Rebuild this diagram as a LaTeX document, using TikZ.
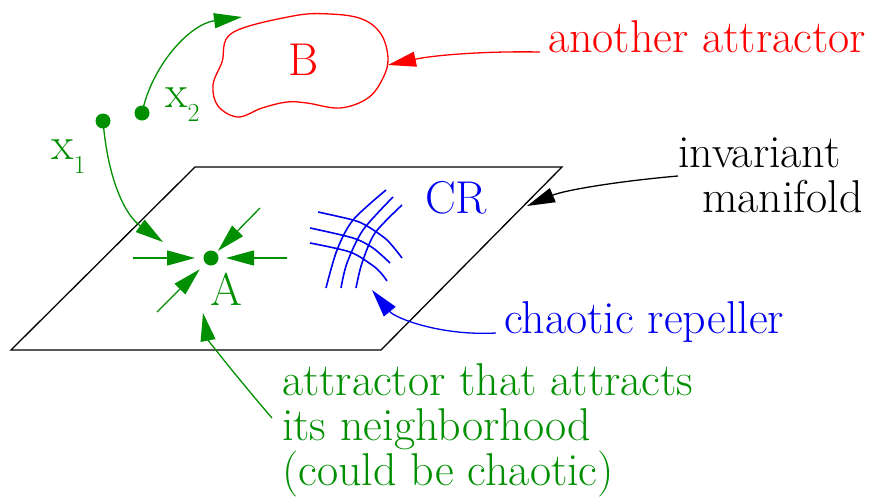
\documentclass[tikz,border=0pt]{standalone}
\usetikzlibrary{arrows.meta, positioning}
\definecolor{attrgreen}{HTML}{008F00}
\definecolor{blobred}{HTML}{FF0000}
\definecolor{repblue}{HTML}{0000F0}
\definecolor{planeblack}{HTML}{000000}
\newcommand{\lowidx}[1]{\raisebox{-14pt}{\fontsize{26}{26}\selectfont #1}}

\begin{document}
\begin{tikzpicture}[
    x=1pt, y=-1pt,
    % ── Text styles ──────────────────────────────────────────────────────
    lbl/.style={
        inner sep=0pt, anchor=base west,
        font=\fontsize{46}{45}\selectfont
    },
    dot/.style={
        circle, fill=attrgreen, inner sep=0pt, minimum size=15pt
    },
    % ── Line styles ──────────────────────────────────────────────────────
    plane/.style={line width=1.3pt, draw=planeblack, line join=miter},
    gridline/.style={line width=1.6pt, draw=repblue},
    blob/.style={line width=1.3pt, draw=blobred},
    % ── Arrow styles ─────────────────────────────────────────────────────
    arr/.style={
        -{Triangle[length=28pt, width=15pt]},
        line width=1.3pt
    },
    garr/.style={arr, draw=attrgreen},
    rarr/.style={arr, draw=blobred},
    barr/.style={arr, draw=repblue},
    karr/.style={arr, draw=planeblack}
]
\useasboundingbox (0,0) rectangle (884,499);

% ═══════════════════════════════════════════════════════════════════════════
% 1. Invariant manifold (plane)
% ═══════════════════════════════════════════════════════════════════════════
\draw[plane] (195,167) -- (562,167) -- (381,350) -- (11,350) -- cycle;

% base anchor of a multi-line node sits on its last line
\node[lbl, align=left] (invariant) at (678,212)
    {invariant\\\hspace{24pt}manifold};
\coordinate (planestart) at (678,176);
\coordinate (planetip) at (527,206);
\draw[karr] (planestart) .. controls (620,181) and (565,190) .. (planetip);

% ═══════════════════════════════════════════════════════════════════════════
% 2. Attractor A with its neighbourhood
% ═══════════════════════════════════════════════════════════════════════════
\node[dot] (adot) at (211,258) {};
\node[lbl, text=attrgreen] (alabel) at (210,305) {A};

\coordinate (inW) at (133,258);
\coordinate (inE) at (287,258);
\coordinate (inNE) at (260,208);
\coordinate (inSW) at (157,312);
\draw[garr, shorten >=16pt] (inW) -- (adot.center);
\draw[garr, shorten >=15pt] (inE) -- (adot.center);
\draw[garr, shorten >=10pt] (inNE) -- (adot.center);
\draw[garr, shorten >=16pt] (inSW) -- (adot.center);

\node[lbl, text=attrgreen, align=left] (neigh) at (282,485)
    {attractor that attracts\\its neighborhood\\(could be chaotic)};
\coordinate (neighstart) at (272,418);
\coordinate (atip) at (203,313);
\draw[garr] (neighstart) .. controls (235,375) and (208,340) .. (atip);

% ═══════════════════════════════════════════════════════════════════════════
% 3. Initial points x1, x2
% ═══════════════════════════════════════════════════════════════════════════
\node[dot] (pone) at (103,121) {};
\node[dot] (ptwo) at (142,113) {};
\node[lbl, text=attrgreen] (xone) at (51,159) {x\lowidx{1}};
\node[lbl, text=attrgreen] (xtwo) at (165,107) {x\lowidx{2}};

\coordinate (onetip) at (163,242);
\coordinate (twotip) at (242,17);
\draw[garr] (pone.center) .. controls (108,180) and (125,215) .. (onetip);
\draw[garr] (ptwo.center) .. controls (152,65) and (190,24) .. (twotip);

% ═══════════════════════════════════════════════════════════════════════════
% 4. Chaotic repeller CR
% ═══════════════════════════════════════════════════════════════════════════
\node[lbl, text=repblue] (cr) at (425,213) {CR};

\draw[gridline] plot[smooth] coordinates
    {(318,212) (353,220) (367,226) (387,240) (402,258)};
\draw[gridline] plot[smooth] coordinates
    {(310,228) (353,238) (373,248) (390,263)};
\draw[gridline] plot[smooth] coordinates
    {(310,243) (350,252) (372,265) (381,273) (387,281)};
\draw[gridline] plot[smooth] coordinates
    {(386,190) (353,220) (337,250) (326,288)};
\draw[gridline] plot[smooth] coordinates
    {(393,197) (363,230) (347,263) (341,288)};
\draw[gridline] plot[smooth] coordinates
    {(402,205) (375,233) (362,263) (356,288)};

\node[lbl, text=repblue] (chaotic) at (504,333) {chaotic repeller};
\coordinate (crstart) at (496,333);
\coordinate (crtip) at (372,290);
\draw[barr] (crstart) .. controls (440,336) and (395,318) .. (crtip);

% ═══════════════════════════════════════════════════════════════════════════
% 5. Another attractor B
% ═══════════════════════════════════════════════════════════════════════════
\draw[blob] plot[smooth cycle, tension=0.6] coordinates
    {(232,33) (293,16) (330,14) (362,19) (381,34) (388,58) (383,78)
     (368,98) (340,108) (307,103) (287,102) (262,108) (238,117)
     (218,106) (213,85) (222,62)};
\node[lbl, text=blobred] (blabel) at (288,75) {B};

\node[lbl, text=blobred] (another) at (548,52) {another attractor};
\coordinate (bstart) at (540,52);
\coordinate (btip) at (388,65);
\draw[rarr] (bstart) .. controls (485,51) and (435,55) .. (btip);

\end{tikzpicture}
\end{document}
